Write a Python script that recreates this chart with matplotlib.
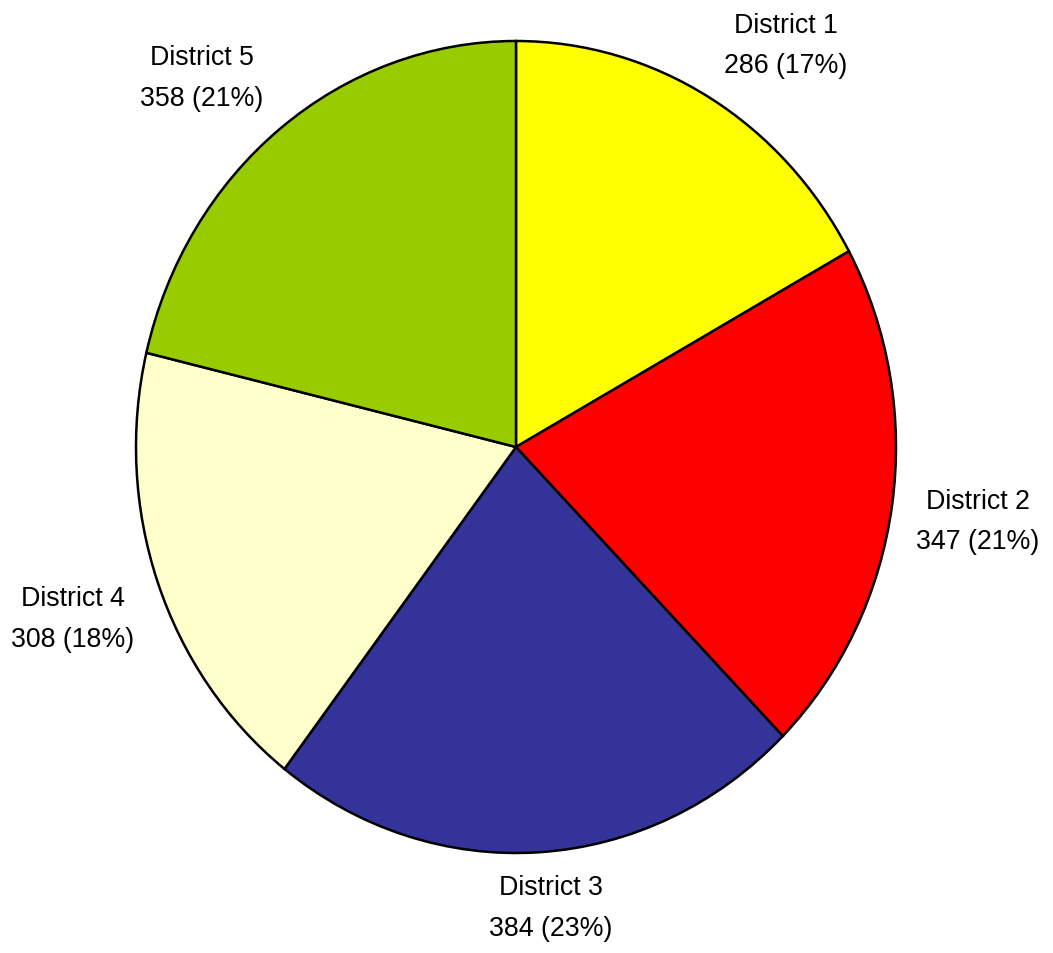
import matplotlib
matplotlib.use('Agg')
import matplotlib.pyplot as plt
import numpy as np

# data
districts = ['District 1', 'District 2', 'District 3', 'District 4', 'District 5']
counts = [286, 347, 384, 308, 358]
colors = ['#FFFF00', '#FF0000', '#333399', '#FFFFCC', '#99CC00']

plt.rcParams['font.family'] = ['Liberation Sans', 'DejaVu Sans']

fig = plt.figure(figsize=(10.53, 9.54), dpi=100)
# pie is slightly stretched vertically in the original
ax = fig.add_axes([136/1053, 100/954, 760/1053, 812/954])

wedges, _ = ax.pie(counts, colors=colors, startangle=90, counterclock=False,
                   wedgeprops=dict(edgecolor='black', linewidth=1.8))
ax.set_aspect('auto')
ax.set_xlim(-1, 1)
ax.set_ylim(-1, 1)
ax.axis('off')

total = sum(counts)
hw, hh = 0.176, 0.086   # half box size of a label, in axis units
for w, name, n in zip(wedges, districts, counts):
    ang = np.deg2rad((w.theta1 + w.theta2) / 2)
    c, s = np.cos(ang), np.sin(ang)
    x = 1.05 * c + hw * np.clip(c * 2.5, -1, 1)
    y = 1.05 * s + hh * np.clip(s * 2.5, -1, 1)
    pct = round(100 * n / total)
    ax.text(x, y, f'{name}\n{n} ({pct}%)', ha='center', va='center',
            fontsize=19.3, linespacing=1.72, multialignment='center',
            clip_on=False)

fig.savefig('out.png', dpi=100, facecolor='w')
